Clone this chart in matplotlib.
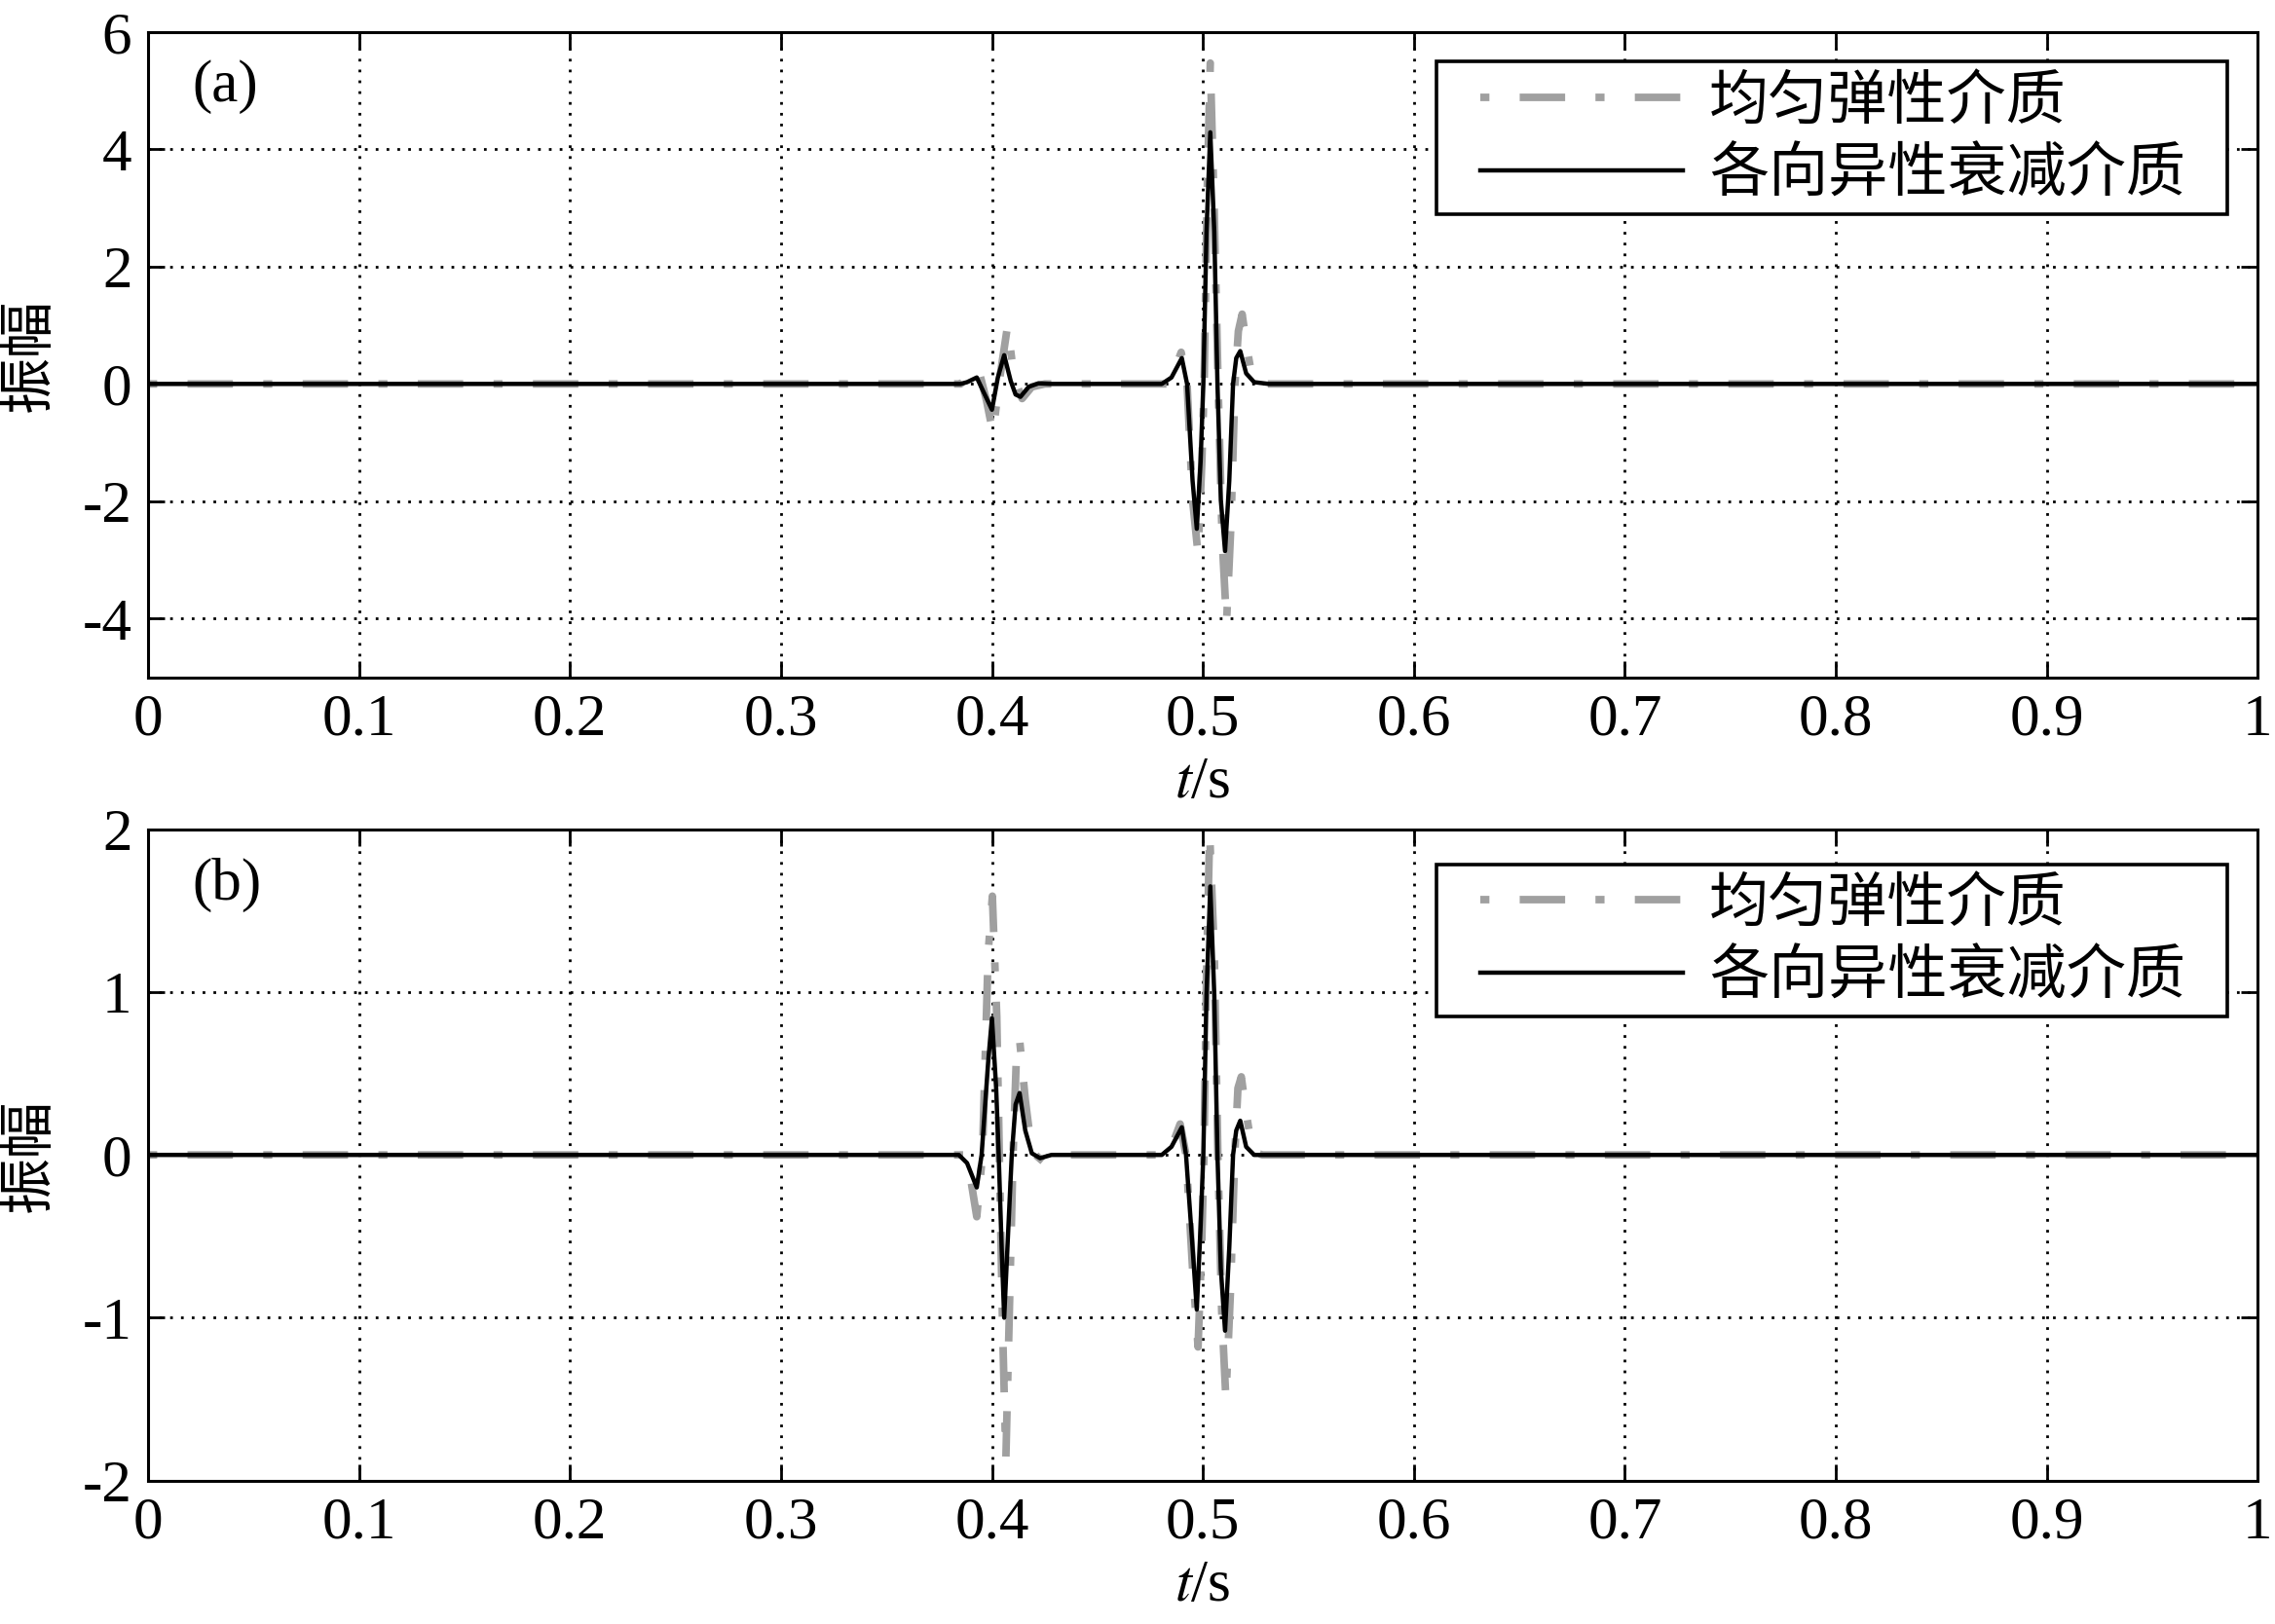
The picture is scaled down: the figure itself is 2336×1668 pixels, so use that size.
import matplotlib
matplotlib.use("Agg")
import matplotlib.pyplot as plt
from matplotlib.patches import Rectangle

plt.rcParams['font.family'] = ['Liberation Serif', 'Noto Sans CJK SC']
plt.rcParams['mathtext.fontset'] = 'stix'
plt.rcParams['axes.unicode_minus'] = False

# valores (t en s, amplitud)
labels = ['均匀弹性介质', '各向异性衰减介质']
x_ticks = [0, 0.1, 0.2, 0.3, 0.4, 0.5, 0.6, 0.7, 0.8, 0.9, 1.0]
x_tick_labels = ['0', '0.1', '0.2', '0.3', '0.4', '0.5', '0.6', '0.7', '0.8', '0.9', '1']
y_ticks_a = [-4, -2, 0, 2, 4, 6]
y_ticks_b = [-2, -1, 0, 1, 2]

# panel (a)
t_a_el = [0, 0.3851, 0.3897, 0.3935, 0.3974, 0.4005, 0.4035, 0.4074, 0.4105, 0.4143,
          0.4189, 0.4251, 0.4835, 0.4866, 0.4897, 0.4925, 0.4951, 0.4977, 0.4995, 0.5006,
          0.5020, 0.5035, 0.5054, 0.5072, 0.5091, 0.5112, 0.5134, 0.5152, 0.5168, 0.5186,
          0.5208, 0.5235, 0.5282, 1.0]
y_a_el = [0, 0.0, 0.14, 0.27, -0.28, -0.84, 0.05, 0.99, 0.11, -0.25,
          -0.05, 0.0, 0.0, 0.24, 0.54, 0.0, -1.98, -2.90, -1.33, 0.0,
          3.25, 5.47, 2.92, 0.0, -2.63, -4.07, -2.31, 0.0, 0.90, 1.19,
          0.63, 0.08, 0.0, 0]

t_a_at = [0, 0.3851, 0.3882, 0.3928, 0.3958, 0.4, 0.4028, 0.4058, 0.4089, 0.4112,
          0.4135, 0.4174, 0.4220, 0.4282, 0.4805, 0.4851, 0.4900, 0.4925, 0.4951, 0.4971,
          0.4989, 0.5002, 0.5017, 0.5035, 0.5054, 0.5069, 0.5085, 0.5105, 0.5125, 0.5143,
          0.5158, 0.5177, 0.5205, 0.5243, 0.5312, 1.0]
y_a_at = [0, 0, 0.03, 0.11, -0.12, -0.44, 0.11, 0.49, 0.05, -0.18,
          -0.22, -0.05, 0.01, 0, 0, 0.11, 0.44, 0, -1.65, -2.47,
          -1.33, 0, 2.59, 4.29, 2.59, 0, -1.98, -2.85, -1.65, 0,
          0.44, 0.56, 0.18, 0.03, 0, 0]

# panel (b)
t_b_el = [0, 0.3866, 0.3897, 0.3928, 0.3955, 0.3982, 0.4002, 0.4023, 0.4035, 0.4051,
          0.4066, 0.4085, 0.4100, 0.4115, 0.4131, 0.4158, 0.4189, 0.4251, 0.4343, 0.4835,
          0.4866, 0.4892, 0.4920, 0.4951, 0.4977, 0.4994, 0.5005, 0.5017, 0.5032, 0.5054,
          0.5071, 0.5089, 0.5109, 0.5131, 0.5151, 0.5166, 0.5182, 0.5205, 0.5235, 0.5282, 1.0]
y_b_el = [0, 0, -0.13, -0.38, 0.0, 1.24, 1.59, 0.85, 0, -1.09,
          -1.87, -0.83, 0, 0.57, 0.71, 0.34, 0.02, -0.05, 0, 0,
          0.10, 0.19, 0.0, -0.70, -1.18, -0.57, 0, 1.11, 1.98, 1.24,
          0, -0.96, -1.50, -0.83, 0, 0.41, 0.48, 0.26, 0.02, 0, 0]

t_b_at = [0, 0.3843, 0.3882, 0.3928, 0.3951, 0.3982, 0.4, 0.4020, 0.4032, 0.4046,
          0.4058, 0.4078, 0.4094, 0.4112, 0.4131, 0.4158, 0.4189, 0.4228, 0.4282, 0.4805,
          0.4851, 0.4900, 0.4920, 0.4951, 0.4971, 0.4989, 0.5002, 0.5017, 0.5035, 0.5054,
          0.5069, 0.5085, 0.5105, 0.5125, 0.5143, 0.5158, 0.5177, 0.5205, 0.5243, 0.5312, 1.0]
y_b_at = [0, 0, -0.05, -0.20, 0.0, 0.57, 0.84, 0.41, 0, -0.57,
          -1.0, -0.44, 0, 0.31, 0.38, 0.15, 0.01, -0.02, 0, 0,
          0.05, 0.17, 0, -0.57, -0.95, -0.44, 0, 0.98, 1.65, 0.98,
          0, -0.70, -1.08, -0.57, 0, 0.15, 0.21, 0.05, 0, 0, 0]

fig = plt.figure(figsize=(11.68, 8.34), dpi=200)
ax_a = fig.add_axes([0.0651, 0.5830, 0.9273, 0.3973])
ax_b = fig.add_axes([0.0651, 0.0884, 0.9273, 0.4009])

# caja de leyenda: (x0, y0, x1, y1) en fracción de ejes
panels = [
    (ax_a, t_a_el, y_a_el, t_a_at, y_a_at, (-5, 6), y_ticks_a, '(a)', (0.6107, 0.717, 0.9856, 0.955)),
    (ax_b, t_b_el, y_b_el, t_b_at, y_b_at, (-2, 2), y_ticks_b, '(b)', (0.6107, 0.7127, 0.9856, 0.9465)),
]

for ax, te, ye, ta, ya, ylim, yt, tag, box in panels:
    ax.plot(te, ye, color='#a0a0a0', lw=2.8, linestyle=(10, (6, 4, 1.2, 4)), label=labels[0])
    ax.plot(ta, ya, color='black', lw=1.6, label=labels[1])
    ax.set_xlim(0, 1)
    ax.set_ylim(*ylim)
    ax.set_xticks(x_ticks)
    ax.set_xticklabels(x_tick_labels)
    ax.set_yticks(yt)
    ax.grid(True, color='black', linestyle=(0, (1, 3)), linewidth=1.0)
    ax.tick_params(direction='in', length=6, width=1.0, labelsize=22,
                   top=True, right=True, pad=6)
    for s in ax.spines.values():
        s.set_linewidth(1.1)
    ax.set_xlabel(r'$t$/s', fontsize=22, labelpad=3)
    ax.set_ylabel('振幅', fontsize=21, family=['Noto Sans CJK SC'])
    ax.yaxis.set_label_coords(-0.0426, 0.5)
    ax.text(0.021, 0.915, tag, transform=ax.transAxes, fontsize=22, va='center', ha='left')

    x0, y0, x1, y1 = box
    ax.add_patch(Rectangle((x0, y0), x1 - x0, y1 - y0, transform=ax.transAxes,
                           facecolor='white', edgecolor='black', lw=1.3, zorder=4))
    leg = ax.legend(loc='center left', bbox_to_anchor=(0.6314, (y0 + y1) / 2), fontsize=22,
                    frameon=False, handlelength=3.4, handletextpad=0.45, borderpad=0,
                    labelspacing=0.2, borderaxespad=0)
    leg.set_zorder(5)
    for txt in leg.get_texts():
        txt.set_family(['Noto Sans CJK SC'])

fig.savefig('out.png', dpi=200)
